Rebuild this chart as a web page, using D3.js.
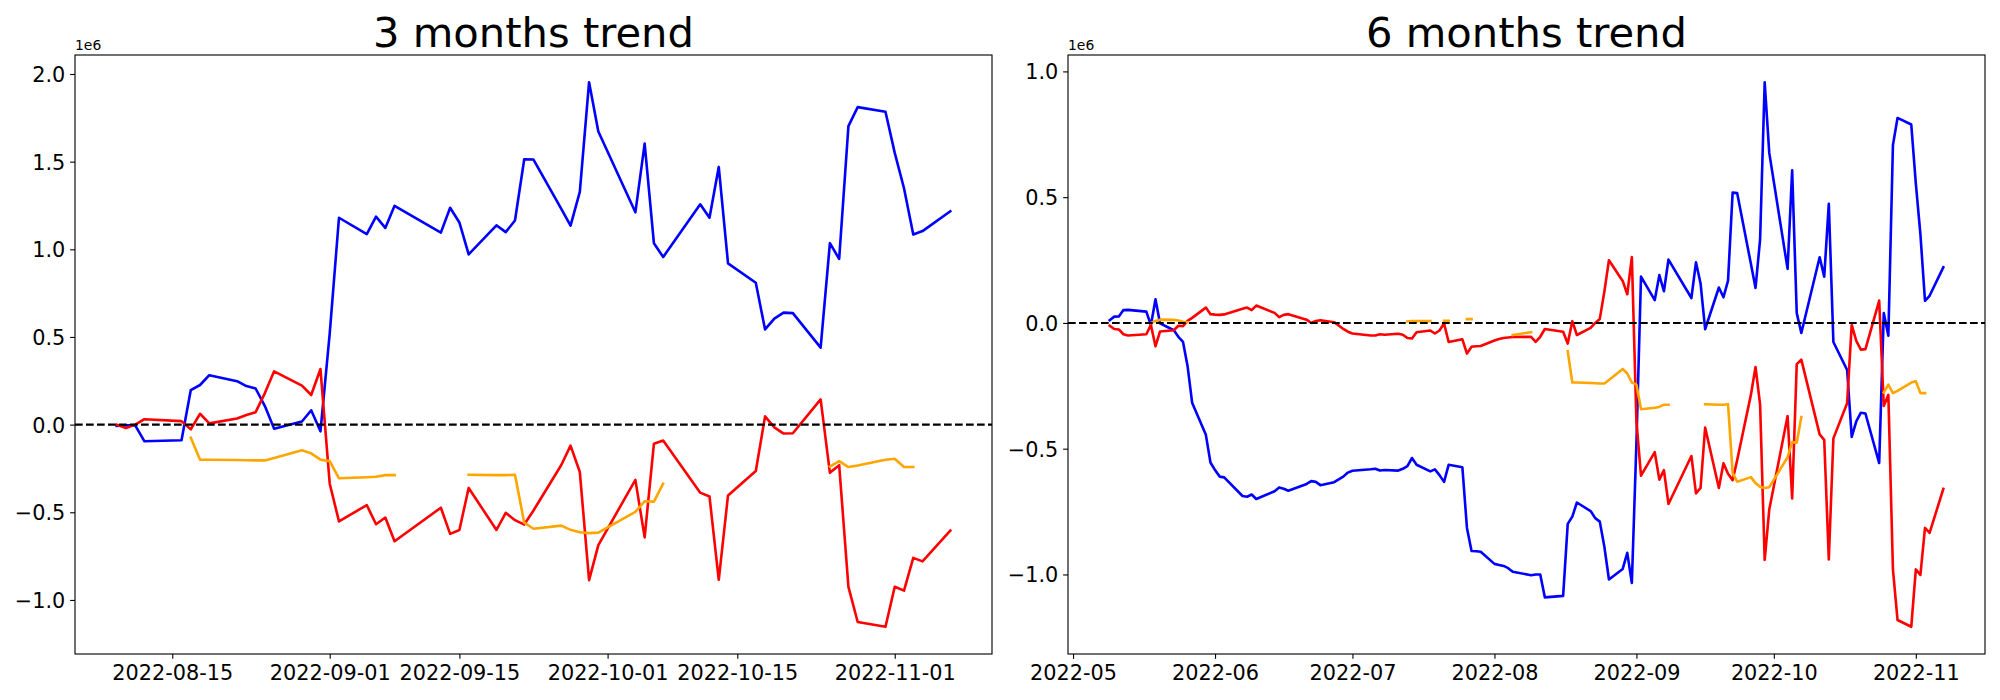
<!DOCTYPE html>
<html><head><meta charset="utf-8">
<script src="https://cdn.jsdelivr.net/npm/d3@7"></script>
<style>html,body{margin:0;padding:0;background:#fff;}svg{display:block;font-family:"DejaVu Sans",sans-serif;}</style>
</head><body>
<svg id="chart" width="2000" height="700"></svg>
<script>
// ---------- DATA (values in units of 1e6) ----------
const dates3 = ["2022-08-09","2022-08-10","2022-08-11","2022-08-12","2022-08-16","2022-08-17","2022-08-18","2022-08-19","2022-08-22","2022-08-23","2022-08-24","2022-08-25","2022-08-26","2022-08-29","2022-08-30","2022-08-31",
"2022-09-01","2022-09-02","2022-09-05","2022-09-06","2022-09-07","2022-09-08","2022-09-13","2022-09-14","2022-09-15","2022-09-16","2022-09-19","2022-09-20","2022-09-21","2022-09-22","2022-09-23","2022-09-26","2022-09-27","2022-09-28","2022-09-29","2022-09-30",
"2022-10-04","2022-10-05","2022-10-06","2022-10-07","2022-10-11","2022-10-12","2022-10-13","2022-10-14","2022-10-17","2022-10-18","2022-10-19","2022-10-20","2022-10-21","2022-10-24","2022-10-25","2022-10-26","2022-10-27","2022-10-28","2022-10-31",
"2022-11-01","2022-11-02","2022-11-03","2022-11-04","2022-11-07"];
const blue3 = [-0.007,-0.004,-0.004,-0.095,-0.089,0.197,0.226,0.282,0.248,0.22,0.206,0.106,-0.024,0.018,0.082,-0.038,
0.52,1.18,1.087,1.186,1.122,1.248,1.095,1.237,1.153,0.971,1.137,1.098,1.164,1.514,1.512,1.23,1.135,1.328,1.953,1.672,
1.211,1.603,1.035,0.956,1.257,1.18,1.47,0.92,0.809,0.543,0.605,0.639,0.636,0.439,1.035,0.945,1.703,1.811,1.785,
1.55,1.348,1.084,1.104,1.217];
const red3 = [0.0,-0.02,0.0,0.031,0.02,-0.027,0.062,0.007,0.035,0.055,0.071,0.18,0.304,0.222,0.169,0.317,
-0.337,-0.552,-0.459,-0.568,-0.53,-0.665,-0.474,-0.623,-0.601,-0.361,-0.601,-0.503,-0.545,-0.57,-0.49,-0.23,-0.12,-0.27,-0.887,-0.687,
-0.315,-0.643,-0.109,-0.091,-0.388,-0.41,-0.885,-0.404,-0.264,0.047,-0.016,-0.051,-0.049,0.144,-0.275,-0.231,-0.925,-1.126,-1.153,
-0.925,-0.947,-0.76,-0.78,-0.605];
const orange3 = [null,null,null,null,null,-0.075,-0.2,-0.2,-0.202,-0.203,-0.204,-0.204,-0.19,-0.146,-0.164,-0.2,
-0.208,-0.306,-0.3,-0.297,-0.288,-0.288,null,null,null,-0.286,-0.288,-0.288,-0.286,-0.559,-0.594,-0.576,-0.6,-0.614,-0.619,-0.616,
-0.497,-0.437,-0.439,-0.337,null,null,null,null,null,null,null,null,null,null,-0.239,-0.208,-0.242,-0.233,-0.2,
-0.195,-0.242,-0.242,null,null];

const dates6 = ["2022-05-09","2022-05-10","2022-05-11","2022-05-12","2022-05-13","2022-05-17","2022-05-18","2022-05-19","2022-05-20","2022-05-23","2022-05-24","2022-05-25","2022-05-26","2022-05-27","2022-05-30","2022-05-31",
"2022-06-01","2022-06-02","2022-06-03","2022-06-07","2022-06-08","2022-06-09","2022-06-10","2022-06-14","2022-06-15","2022-06-16","2022-06-17","2022-06-21","2022-06-22","2022-06-23","2022-06-24","2022-06-27","2022-06-28","2022-06-29","2022-06-30",
"2022-07-01","2022-07-05","2022-07-06","2022-07-07","2022-07-08","2022-07-11","2022-07-12","2022-07-13","2022-07-14","2022-07-15","2022-07-18","2022-07-19","2022-07-20","2022-07-21","2022-07-22","2022-07-25","2022-07-26","2022-07-27","2022-07-28","2022-07-29",
"2022-08-01","2022-08-02","2022-08-03","2022-08-04","2022-08-05",
"2022-08-09","2022-08-10","2022-08-11","2022-08-12","2022-08-16","2022-08-17","2022-08-18","2022-08-19","2022-08-22","2022-08-23","2022-08-24","2022-08-25","2022-08-26","2022-08-29","2022-08-30","2022-08-31",
"2022-09-01","2022-09-02","2022-09-05","2022-09-06","2022-09-07","2022-09-08","2022-09-13","2022-09-14","2022-09-15","2022-09-16","2022-09-19","2022-09-20","2022-09-21","2022-09-22","2022-09-23","2022-09-26","2022-09-27","2022-09-28","2022-09-29","2022-09-30",
"2022-10-04","2022-10-05","2022-10-06","2022-10-07","2022-10-11","2022-10-12","2022-10-13","2022-10-14","2022-10-17","2022-10-18","2022-10-19","2022-10-20","2022-10-21","2022-10-24","2022-10-25","2022-10-26","2022-10-27","2022-10-28","2022-10-31",
"2022-11-01","2022-11-02","2022-11-03","2022-11-04","2022-11-07"];
const blue6 = [0.011,0.025,0.026,0.051,0.052,0.045,-0.009,0.094,-0.002,-0.029,-0.055,-0.075,-0.171,-0.317,-0.445,-0.555,
-0.585,-0.611,-0.614,-0.688,-0.691,-0.682,-0.7,-0.669,-0.654,-0.659,-0.667,-0.64,-0.629,-0.632,-0.645,-0.633,-0.622,-0.611,-0.595,
-0.588,-0.582,-0.58,-0.587,-0.585,-0.587,-0.58,-0.569,-0.537,-0.564,-0.59,-0.582,-0.605,-0.632,-0.564,-0.574,-0.815,-0.907,-0.908,-0.91,
-0.958,-0.962,-0.966,-0.975,-0.989,
-1.003,-1.0,-1.0,-1.091,-1.085,-0.799,-0.77,-0.714,-0.748,-0.776,-0.79,-0.89,-1.02,-0.978,-0.914,-1.034,
-0.476,0.184,0.091,0.19,0.126,0.252,0.099,0.241,0.157,-0.025,0.141,0.102,0.168,0.518,0.516,0.234,0.139,0.332,0.957,0.676,
0.215,0.607,0.039,-0.04,0.261,0.184,0.474,-0.076,-0.187,-0.453,-0.391,-0.357,-0.36,-0.557,0.039,-0.051,0.707,0.815,0.789,
0.554,0.352,0.088,0.108,0.221];
const red6 = [-0.011,-0.024,-0.026,-0.045,-0.05,-0.045,-0.008,-0.093,-0.034,-0.029,-0.011,-0.013,0.008,0.02,0.061,0.035,
0.033,0.032,0.034,0.056,0.061,0.051,0.069,0.04,0.023,0.032,0.035,0.013,0.0,0.008,0.011,0.003,-0.01,-0.024,-0.035,
-0.042,-0.05,-0.05,-0.045,-0.047,-0.043,-0.047,-0.06,-0.062,-0.037,-0.03,-0.042,-0.03,-0.002,-0.076,-0.065,-0.122,-0.095,-0.093,-0.092,
-0.07,-0.064,-0.06,-0.058,-0.056,
-0.055,-0.075,-0.055,-0.024,-0.035,-0.082,0.007,-0.048,-0.02,0.0,0.016,0.125,0.249,0.167,0.114,0.262,
-0.392,-0.607,-0.514,-0.623,-0.585,-0.72,-0.529,-0.678,-0.656,-0.416,-0.656,-0.558,-0.6,-0.625,-0.545,-0.285,-0.175,-0.325,-0.942,-0.742,
-0.37,-0.698,-0.164,-0.146,-0.443,-0.465,-0.94,-0.459,-0.319,-0.008,-0.071,-0.106,-0.104,0.089,-0.33,-0.286,-0.98,-1.181,-1.208,
-0.98,-1.002,-0.815,-0.835,-0.66];
const orange6 = [null,null,null,null,null,null,0.0,0.008,0.013,0.012,0.01,0.005,0.003,null,null,null,
null,null,null,null,null,null,null,null,null,null,null,null,null,null,null,null,null,null,null,
null,null,null,null,null,null,null,0.006,0.007,0.007,0.007,null,null,0.008,0.008,null,0.015,0.015,null,null,
null,null,null,null,-0.048,
-0.037,null,null,null,null,-0.112,-0.237,-0.237,-0.239,-0.24,-0.241,-0.241,-0.227,-0.183,-0.201,-0.237,
-0.245,-0.343,-0.337,-0.334,-0.325,-0.325,null,null,null,-0.323,-0.325,-0.325,-0.323,-0.596,-0.631,-0.613,-0.637,-0.651,-0.656,-0.653,
-0.534,-0.474,-0.476,-0.374,null,null,null,null,null,null,null,null,null,null,-0.276,-0.245,-0.279,-0.27,-0.237,
-0.232,-0.279,-0.279,null,null];

const xTicks3 = ["2022-08-15","2022-09-01","2022-09-15","2022-10-01","2022-10-15","2022-11-01"];
const xTicks6 = ["2022-05","2022-06","2022-07","2022-08","2022-09","2022-10","2022-11"];
const yTicks3 = [-1.0,-0.5,0.0,0.5,1.0,1.5,2.0];
const yTicks6 = [-1.0,-0.5,0.0,0.5,1.0];
const titles = ["3 months trend","6 months trend"];
const offsetLabel = "1e6";
const seriesColors = ["#0000ff","#ff0000","#ffa500"];

// ---------- LAYOUT ----------
const TOP = 55, BOTTOM = 654;
const TICK = 4.86, PAD = 4.86;
const svg = d3.select("#chart");

const panels = [
  {title: titles[0], left: 75, right: 992, dates: dates3, series: [blue3, red3, orange3],
   xTicks: xTicks3, xParse: d3.utcParse("%Y-%m-%d"), yTicks: yTicks3},
  {title: titles[1], left: 1068, right: 1985, dates: dates6, series: [blue6, red6, orange6],
   xTicks: xTicks6, xParse: d3.utcParse("%Y-%m"), yTicks: yTicks6}
];
const parseDay = d3.utcParse("%Y-%m-%d");

panels.forEach(p => {
  const dts = p.dates.map(parseDay);
  const vals = p.series.flat().filter(v => v != null);
  const [ymin, ymax] = d3.extent(vals);
  const yp = (ymax - ymin) * 0.05;
  const [t0, t1] = d3.extent(dts);
  const xp = (t1 - t0) * 0.05;
  const x = d3.scaleUtc().domain([new Date(+t0 - xp), new Date(+t1 + xp)]).range([p.left, p.right]);
  const y = d3.scaleLinear().domain([ymin - yp, ymax + yp]).range([BOTTOM, TOP]);

  const g = svg.append("g");
  const clipId = "clip" + p.left;
  g.append("clipPath").attr("id", clipId).append("rect")
    .attr("x", p.left).attr("y", TOP).attr("width", p.right - p.left).attr("height", BOTTOM - TOP);

  const plot = g.append("g").attr("clip-path", `url(#${clipId})`);
  p.series.forEach((vals, si) => {
    const pts = vals.map((v, i) => ({d: dts[i], v}));
    const line = d3.line().defined(d => d.v != null).x(d => x(d.d)).y(d => y(d.v));
    plot.append("path").attr("d", line(pts)).attr("fill", "none")
      .attr("stroke", seriesColors[si]).attr("stroke-width", 2.6)
      .attr("stroke-linejoin", "round").attr("stroke-linecap", "square");
  });
  plot.append("line").attr("x1", p.left).attr("x2", p.right).attr("y1", y(0)).attr("y2", y(0))
    .attr("stroke", "#000").attr("stroke-width", 2.08).attr("stroke-dasharray", "7.7,3.3");

  // axes
  const xa = g.append("g").attr("transform", `translate(0,${BOTTOM})`)
    .call(d3.axisBottom(x).tickValues(p.xTicks.map(p.xParse)).tickFormat((d, i) => p.xTicks[i])
      .tickSize(TICK).tickPadding(PAD).tickSizeOuter(0));
  xa.select(".domain").remove();
  xa.selectAll("text").attr("dy", "0.76em");
  const ya = g.append("g").attr("transform", `translate(${p.left},0)`)
    .call(d3.axisLeft(y).tickValues(p.yTicks).tickFormat(d3.format(".1f"))
      .tickSize(TICK).tickPadding(PAD).tickSizeOuter(0));
  ya.select(".domain").remove();
  ya.selectAll("text").attr("dy", "0.36em");
  [xa, ya].forEach(a => {
    a.attr("font-family", "DejaVu Sans, sans-serif").attr("font-size", 20.8);
    a.selectAll("line").attr("stroke-width", 1.11);
  });

  g.append("rect").attr("x", p.left).attr("y", TOP).attr("width", p.right - p.left).attr("height", BOTTOM - TOP)
    .attr("fill", "none").attr("stroke", "#000").attr("stroke-width", 1.11);

  g.append("text").attr("x", (p.left + p.right) / 2).attr("y", 46.7).attr("text-anchor", "middle")
    .attr("font-size", 41.67).text(p.title);
  g.append("text").attr("x", p.left).attr("y", 50).attr("font-size", 13.9).text(offsetLabel);
});
</script>
</body></html>
